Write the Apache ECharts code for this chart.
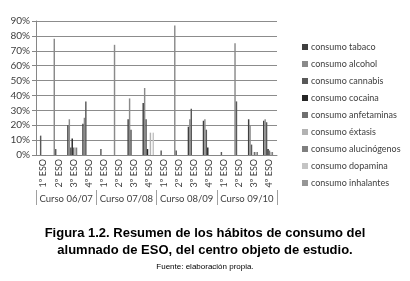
<!DOCTYPE html>
<html>
<head>
<meta charset="utf-8">
<script src="https://cdn.jsdelivr.net/npm/echarts@6/dist/echarts.min.js"></script>
<style>
  html, body { margin: 0; padding: 0; background: #fff; }
  #box { width: 410px; height: 281px; }
</style>
</head>
<body>
<div id="box"></div>
<script>
// categorias: 4 cursos x 4 niveles de ESO
var niveles = ['1º ESO', '2º ESO', '3º ESO', '4º ESO',
               '1º ESO', '2º ESO', '3º ESO', '4º ESO',
               '1º ESO', '2º ESO', '3º ESO', '4º ESO',
               '1º ESO', '2º ESO', '3º ESO', '4º ESO'];
var cursos = ['Curso 06/07', 'Curso 07/08', 'Curso 08/09', 'Curso 09/10'];
var yTicks = [0, 10, 20, 30, 40, 50, 60, 70, 80, 90];

// porcentajes (%)
var tabaco       = [0, 0, 20, 21,  0, 0, 24, 35,  0, 0, 19, 23,  0, 0, 24, 23];
var alcohol      = [0, 78, 24, 25,  0, 74, 38, 45,  0, 87, 24, 24,  0, 75, 20, 24];
var cannabis     = [13, 4, 5, 36,  4, 0, 17, 24,  3, 3, 31, 17,  2, 36, 7, 22];
var cocaina      = [0, 0, 11, 0,  0, 0, 0, 4,  0, 0, 0, 5,  0, 0, 0, 4];
var anfetaminas  = [0, 0, 5, 0,  0, 0, 0, 0,  0, 0, 0, 0,  0, 0, 2, 3];
var extasis      = [0, 0, 5, 0,  0, 0, 0, 15,  0, 0, 0, 0,  0, 0, 2, 2];
var alucinogenos = [0, 0, 5, 0,  0, 0, 0, 0,  0, 0, 0, 0,  0, 0, 2, 2];
var dopamina     = [0, 0, 0, 0,  0, 0, 0, 15,  0, 0, 0, 0,  0, 0, 0, 0];
var inhalantes   = [0, 0, 0, 0,  0, 0, 0, 0,  0, 0, 0, 0,  0, 0, 0, 0];

var nombres = ['consumo tabaco', 'consumo alcohol', 'consumo cannabis', 'consumo cocaina',
  'consumo anfetaminas', 'consumo éxtasis', 'consumo alucinógenos', 'consumo dopamina', 'consumo inhalantes'];
var datos = [tabaco, alcohol, cannabis, cocaina, anfetaminas, extasis, alucinogenos, dopamina, inhalantes];
var colores = ['#3f3f3f', '#8a8a8a', '#595959', '#262626', '#707070', '#b2b2b2', '#7f7f7f', '#c4c4c4', '#969696'];

var chart = echarts.init(document.getElementById('box'));

var series = nombres.map(function(n, i) {
  return {
    name: n,
    type: 'bar',
    barGap: 0,
    barCategoryGap: '14%',
    itemStyle: { color: colores[i] },
    data: datos[i]
  };
});

var option = {
  animation: false,
  color: colores,
  title: [{
    text: 'Figura 1.2. Resumen de los hábitos de consumo del\nalumnado de ESO, del centro objeto de estudio.',
    left: 'center',
    top: 220,
    textStyle: {
      fontFamily: 'Liberation Sans',
      fontSize: 13,
      fontWeight: 'bold',
      color: '#000',
      lineHeight: 17
    }
  }, {
    text: 'Fuente: elaboración propia.',
    left: 'center',
    top: 258,
    textStyle: {
      fontFamily: 'Liberation Sans',
      fontSize: 8,
      fontWeight: 'normal',
      color: '#000'
    }
  }],
  legend: {
    orient: 'vertical',
    left: 297,
    top: 36,
    itemWidth: 6,
    itemHeight: 6,
    itemGap: 5,
    icon: 'rect',
    textStyle: {
      fontFamily: 'Lato',
      fontSize: 9,
      color: '#404040',
      lineHeight: 12,
      padding: [0, 0, 0, -2]
    },
    data: nombres
  },
  grid: { left: 36, right: 133, top: 21, bottom: 126 },
  xAxis: [{
    type: 'category',
    data: niveles,
    axisLine: { lineStyle: { color: '#868686' } },
    axisTick: { length: 35, lineStyle: { color: '#a0a0a0' } },
    axisLabel: {
      interval: 0,
      rotate: 90,
      margin: 4,
      fontFamily: 'Lato',
      fontSize: 9,
      color: '#404040'
    }
  }, {
    type: 'category',
    data: cursos,
    position: 'bottom',
    offset: 35,
    axisLine: { show: false },
    axisTick: { show: true, length: 15, lineStyle: { color: '#a0a0a0' } },
    axisLabel: {
      interval: 0,
      margin: 4,
      fontFamily: 'Lato',
      fontSize: 9.5,
      color: '#404040'
    }
  }],
  yAxis: {
    type: 'value',
    min: yTicks[0],
    max: yTicks[yTicks.length - 1],
    interval: 10,
    axisLine: { show: true, lineStyle: { color: '#868686' } },
    axisTick: { show: true, length: 4, lineStyle: { color: '#868686' } },
    splitLine: { lineStyle: { color: '#8c8c8c' } },
    axisLabel: {
      formatter: '{value}%',
      margin: 6,
      fontFamily: 'Lato',
      fontSize: 10,
      color: '#404040'
    }
  },
  series: series
};

chart.setOption(option);
</script>
</body>
</html>
